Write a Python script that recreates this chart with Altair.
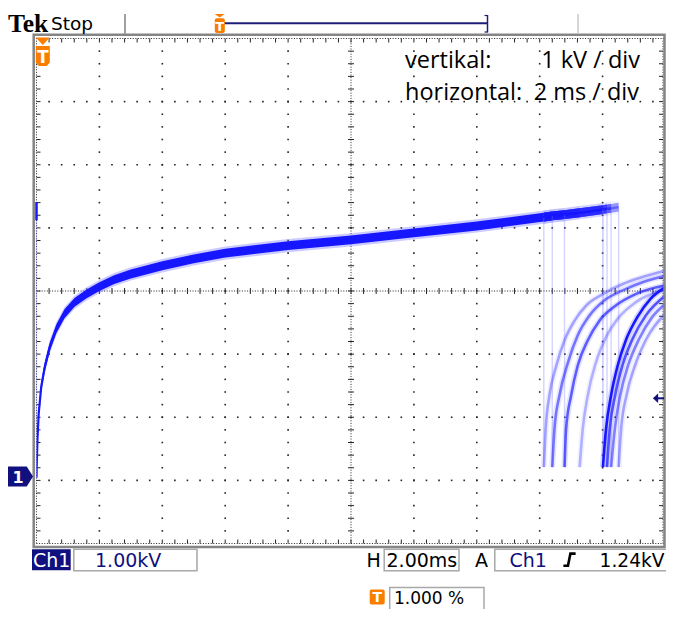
import altair as alt
import numpy as np
import pandas as pd

# ---------------- values read from the oscilloscope screen ----------------
# main charging trace: time (ms) and voltage (kV)
trace_t = [0.00, 0.006, 0.03, 0.07, 0.15, 0.26, 0.42, 0.63, 0.89, 1.21, 1.58, 2.00, 2.47, 3.00,
           4.00, 5.00, 6.00, 8.00, 10.0, 12.0, 14.0, 16.13, 16.40, 16.79, 17.27, 18.01, 18.14,
           18.27, 18.51]
trace_v = [0.04, 0.21, 0.64, 1.06, 1.48, 1.79, 2.11, 2.40, 2.64, 2.82, 2.95, 3.07, 3.18, 3.27,
           3.40, 3.51, 3.60, 3.72, 3.81, 3.92, 4.03, 4.17, 4.19, 4.21, 4.24, 4.29, 4.30,
           4.31, 4.33]

# overlaid sweeps (persistence): breakdown time and brightness
sweep_id = ["A", "B", "C", "D", "E", "F", "G", "H"]
sweep_break_t = [16.13, 16.40, 16.79, 17.27, 18.01, 18.14, 18.27, 18.51]
sweep_intensity = [0.35, 0.55, 0.65, 0.30, 1.00, 0.70, 0.50, 0.35]
collapse_intensity = [0.30, 0.30, 0.30, 0.00, 0.40, 0.30, 0.30, 0.30]
collapse_floor_v = 0.21

# recovery curves after each breakdown
recovery_t = {
    "A": [16.13, 16.19, 16.31, 16.53, 16.79, 17.11, 17.48, 18.01, 18.64, 19.27, 20.0],
    "B": [16.40, 16.47, 16.63, 16.90, 17.21, 17.58, 18.05, 18.64, 19.27, 20.0],
    "C": [16.79, 16.84, 17.00, 17.21, 17.53, 17.90, 18.42, 19.05, 20.0],
    "D": [17.27, 17.37, 17.53, 17.79, 18.11, 18.53, 19.05, 20.0],
    "E": [18.01, 18.11, 18.27, 18.48, 18.74, 19.11, 19.53, 20.0],
    "F": [18.14, 18.23, 18.40, 18.63, 18.95, 19.37, 20.0],
    "G": [18.27, 18.39, 18.56, 18.81, 19.16, 19.58, 20.0],
    "H": [18.51, 18.59, 18.76, 19.03, 19.37, 20.0],
}
recovery_v = {
    "A": [0.21, 0.82, 1.35, 1.82, 2.22, 2.53, 2.77, 2.95, 3.11, 3.22, 3.32],
    "B": [0.21, 0.82, 1.35, 1.87, 2.30, 2.61, 2.85, 3.01, 3.14, 3.24],
    "C": [0.21, 0.82, 1.35, 1.82, 2.22, 2.53, 2.77, 2.95, 3.09],
    "D": [0.21, 0.82, 1.35, 1.87, 2.27, 2.59, 2.82, 3.03],
    "E": [0.21, 0.82, 1.35, 1.82, 2.22, 2.59, 2.88, 3.06],
    "F": [0.21, 0.82, 1.35, 1.82, 2.24, 2.61, 2.93],
    "G": [0.21, 0.82, 1.35, 1.82, 2.24, 2.59, 2.80],
    "H": [0.21, 0.82, 1.35, 1.82, 2.22, 2.64],
}
pretrigger_blip_v = [4.12, 4.41]
ground_marker_v = 0.06
trigger_level_v = 1.30
trigger_pos_t = 0.2

# screen texts
annot_rows = [("vertikal:", "1 kV / div"), ("horizontal:", "2 ms / div")]
status_texts = {"ch": "Ch1", "volts": "1.00kV", "H": "H", "time": "2.00ms", "A": "A",
                "trig_ch": "Ch1", "trig_lvl": "1.24kV", "pct": "1.000 %"}

# ---------------- layout / style ----------------
W, H = 629, 505
OX, OY = 38.5, 38.5            # reference-screen position of the graticule origin
BLUE = "#1616ff"
FRINGE = "#6a6aff"
NAVY = "#10107e"
ORANGE = "#fa7d00"
GRAYBOX = "#a8a8a8"
GRID = "#262626"

SX = alt.Scale(domain=[0, 20], nice=False, zero=False)
SY = alt.Scale(domain=[-1, 7], nice=False, zero=False)


def X(f):
    return alt.X(f, type="quantitative", scale=SX, axis=None)


def Y(f):
    return alt.Y(f, type="quantitative", scale=SY, axis=None)


def XD(v):
    return alt.XDatum(v, type="quantitative", scale=SX, axis=None)


def YD(v):
    return alt.YDatum(v, type="quantitative", scale=SY, axis=None)


ONE = pd.DataFrame({"k": [0]})


def rect(x1, y1, x2, y2, **kw):
    return alt.Chart(ONE).mark_rect(**kw).encode(
        x=alt.value(x1 - OX), x2=alt.value(x2 - OX), y=alt.value(y1 - OY), y2=alt.value(y2 - OY))


def seg(x1, y1, x2, y2, color, w):
    return alt.Chart(ONE).mark_rule(color=color, strokeWidth=w).encode(
        x=alt.value(x1 - OX), x2=alt.value(x2 - OX), y=alt.value(y1 - OY), y2=alt.value(y2 - OY))


def txt(s, x, y, size, color="black", font="DejaVu Sans", weight="normal", align="left"):
    return alt.Chart(ONE).mark_text(text=s, fontSize=size, font=font, fontWeight=weight, color=color,
                                    align=align, baseline="alphabetic").encode(
        x=alt.value(x - OX), y=alt.value(y - OY))


def sym(path, size, color, x, y, filled=True, sw=1.0):
    kw = dict(shape=path, size=size, filled=filled, color=color, opacity=1)
    if not filled:
        kw["strokeWidth"] = sw
    return alt.Chart(ONE).mark_point(**kw).encode(x=x, y=y)


layers = []

# ---------------- graticule ----------------
majors_t = [2, 4, 6, 8, 12, 14, 16, 18]
majors_v = [0, 1, 2, 4, 5, 6]
minor_v = [round(-1 + 0.2 * k, 2) for k in range(1, 40)]
minor_t = [round(0.4 * k, 2) for k in range(1, 50)]
dots = pd.DataFrame([{"t": t, "v": v} for t in majors_t for v in minor_v] +
                    [{"t": t, "v": v} for v in majors_v for t in minor_t])
layers.append(alt.Chart(dots).mark_square(size=2.6, color=GRID, opacity=1).encode(x=X("t"), y=Y("v")))

# center cross (dense dotted) with ticks
layers.append(alt.Chart(ONE).mark_rule(color=GRID, strokeWidth=1, strokeDash=[1, 1.6]).encode(
    x=XD(0), x2=alt.X2Datum(20), y=YD(3)))
layers.append(alt.Chart(ONE).mark_rule(color=GRID, strokeWidth=1, strokeDash=[1, 1.6]).encode(
    x=XD(10), y=YD(-1), y2=alt.Y2Datum(7)))
tdf = pd.DataFrame({"t": minor_t})
vdf = pd.DataFrame({"v": minor_v})
layers.append(alt.Chart(tdf).mark_tick(orient="vertical", size=6, thickness=1, color=GRID, opacity=1).encode(
    x=X("t"), y=YD(3)))
layers.append(alt.Chart(vdf).mark_tick(orient="horizontal", size=6, thickness=1, color=GRID, opacity=1).encode(
    y=Y("v"), x=XD(10)))

# edges: dotted lines and inward ticks
layers.append(alt.Chart(ONE).mark_rule(color=GRID, strokeWidth=1, strokeDash=[1, 1.6]).encode(
    x=XD(0), y=YD(-1), y2=alt.Y2Datum(7)))
layers.append(alt.Chart(ONE).mark_rule(color=GRID, strokeWidth=1, strokeDash=[1, 1.6], xOffset=-2.5).encode(
    x=XD(20), y=YD(-1), y2=alt.Y2Datum(7)))
for yv in (-1, 7):
    layers.append(alt.Chart(ONE).mark_rule(color=GRID, strokeWidth=1, strokeDash=[1, 1.6]).encode(
        x=XD(0), x2=alt.X2Datum(20), y=YD(yv)))
layers.append(alt.Chart(tdf).mark_tick(orient="vertical", size=4, thickness=1, color=GRID, yOffset=2,
                                       opacity=1).encode(x=X("t"), y=YD(7)))
layers.append(alt.Chart(tdf).mark_tick(orient="vertical", size=4, thickness=1, color=GRID, yOffset=-2,
                                       opacity=1).encode(x=X("t"), y=YD(-1)))
layers.append(alt.Chart(vdf).mark_tick(orient="horizontal", size=4, thickness=1, color=GRID, xOffset=2,
                                       opacity=1).encode(y=Y("v"), x=XD(0)))
layers.append(alt.Chart(vdf).mark_tick(orient="horizontal", size=4, thickness=1, color=GRID, xOffset=-4.5,
                                       opacity=1).encode(y=Y("v"), x=XD(20)))

# ---------------- traces ----------------
# common part of all sweeps (drawn once), then the per-sweep tails
t_common = sweep_break_t[0]
common_df = pd.DataFrame({"t": [t for t in trace_t if t <= t_common + 1e-9],
                          "v": [v for t, v in zip(trace_t, trace_v) if t <= t_common + 1e-9]})
tail_rows = []
for s, tb in zip(sweep_id, sweep_break_t):
    for t, v in zip(trace_t, trace_v):
        if t_common - 1e-9 <= t <= tb + 1e-9:
            tail_rows.append({"s": s, "t": t, "v": v})
tail_df = pd.DataFrame(tail_rows)

for df, fo, co, det in ((common_df, 0.35, 1.0, False), (tail_df, 0.08, 0.42, True)):
    enc_extra = {"detail": "s:N"} if det else {}
    layers.append(alt.Chart(df).transform_calculate(lo="datum.v - 0.105", hi="datum.v + 0.105").mark_area(
        color=FRINGE, opacity=fo, clip=True).encode(x=X("t"), y=Y("lo"), y2=alt.Y2("hi:Q"), **enc_extra))
    layers.append(alt.Chart(df).transform_calculate(lo="datum.v - 0.07", hi="datum.v + 0.07").mark_area(
        color=BLUE, opacity=co, clip=True).encode(x=X("t"), y=Y("lo"), y2=alt.Y2("hi:Q"), **enc_extra))
    layers.append(alt.Chart(df).mark_line(color=BLUE, opacity=co, strokeWidth=2.2, clip=True).encode(
        x=X("t"), y=Y("v"), **enc_extra))

# collapse (breakdown) lines
drop_rows = []
for s, tb, a in zip(sweep_id, sweep_break_t, collapse_intensity):
    vt = trace_v[trace_t.index(tb)]
    drop_rows.append({"s": s, "t": tb, "vt": vt, "vb": collapse_floor_v, "a": a})
drop_df = pd.DataFrame(drop_rows)
layers.append(alt.Chart(drop_df).mark_rule(color="#7070ff", strokeWidth=1.4).encode(
    x=X("t"), y=Y("vt"), y2=alt.Y2("vb:Q"), opacity=alt.Opacity("a:Q", scale=None)))

# pre-trigger remnant at the left edge
layers.append(alt.Chart(ONE).mark_rule(color="#7070ff", strokeWidth=1.4, opacity=0.3).encode(
    x=XD(0), y=YD(pretrigger_blip_v[0]), y2=alt.Y2Datum(trace_v[0])))
layers.append(alt.Chart(ONE).mark_rule(color=BLUE, strokeWidth=2.5).encode(
    x=XD(0), y=YD(pretrigger_blip_v[0]), y2=alt.Y2Datum(pretrigger_blip_v[1])))

# recovery curves
rec_rows = []
for s, a in zip(sweep_id, sweep_intensity):
    for t, v in zip(recovery_t[s], recovery_v[s]):
        rec_rows.append({"s": s, "t": t, "v": v, "a": a, "af": a * 0.3})
rec_df = pd.DataFrame(rec_rows)
layers.append(alt.Chart(rec_df).mark_line(color=FRINGE, strokeWidth=6, interpolate="monotone", clip=True).encode(
    x=X("t"), y=Y("v"), detail="s:N", opacity=alt.Opacity("af:Q", scale=None)))
layers.append(alt.Chart(rec_df).mark_line(color=BLUE, strokeWidth=2.6, interpolate="monotone", clip=True).encode(
    x=X("t"), y=Y("v"), detail="s:N", opacity=alt.Opacity("a:Q", scale=None)))

# frame (right side drawn just inside the page width)
layers.append(rect(35.7, 34.7, 666.5, 547.0, fill="white", fillOpacity=0, stroke="#858585", strokeWidth=2.5))

# ---------------- markers on the graticule ----------------
# trigger position marker (orange) at top
layers.append(sym("M-1,-0.54L1,-0.54L0,0.54Z", 196, ORANGE, XD(trigger_pos_t), alt.value(41.2 - OY)))
layers.append(sym("M-0.7,-1L0.7,-1L0.7,0.65L0.4,1L-0.4,1L-0.7,0.65Z", 400, ORANGE,
                  XD(trigger_pos_t), alt.value(56 - OY)))
layers.append(alt.Chart(ONE).mark_text(text="T", fontSize=17, font="DejaVu Sans", fontWeight="bold",
                                       color="white", align="center", baseline="alphabetic").encode(
    x=XD(trigger_pos_t), y=alt.value(63 - OY)))

# ground marker "1"
layers.append(sym("M-1,-0.8L0.5,-0.8L1,0L0.5,0.8L-1,0.8Z", 625, NAVY, alt.value(22.5 - OX), YD(ground_marker_v)))
layers.append(alt.Chart(ONE).mark_text(text="1", fontSize=16, font="DejaVu Sans", fontWeight="bold",
                                       color="white", align="center", baseline="middle", dy=1).encode(
    x=alt.value(20 - OX), y=YD(ground_marker_v)))

# trigger level arrow (right)
layers.append(sym("M-0.55,0L0.55,-1L0.55,1Z", 90, NAVY, alt.value(657.5 - OX), YD(trigger_level_v)))
layers.append(alt.Chart(ONE).mark_rule(color=NAVY, strokeWidth=2).encode(
    x=alt.value(658.5 - OX), x2=alt.value(666 - OX), y=YD(trigger_level_v)))

# annotation text
layers.append(txt(annot_rows[0][0], 407, 68, 23.5, font="Open Sans"))
layers.append(txt(annot_rows[0][1], 642, 68, 23.5, font="Open Sans", align="right"))
layers.append(txt(annot_rows[1][0], 407, 100, 23.5, font="Open Sans"))
layers.append(txt(annot_rows[1][1], 641, 100, 23.5, font="Open Sans", align="right"))

# ---------------- top status line ----------------
layers.append(txt("Tek", 10, 31.7, 25.5, font="Liberation Serif", weight="bold"))
layers.append(txt("Stop", 53, 29.5, 18.5))
layers.append(seg(127, 14, 127, 34, "#a0a0a0", 2))
layers.append(seg(580, 14, 580, 34, "#c8c8c8", 1.5))
layers.append(seg(226, 23.3, 490, 23.3, "#1e1e78", 2))
layers.append(seg(489.5, 15, 489.5, 32.5, "#1e1e78", 1.5))
layers.append(seg(486.5, 15.5, 489.5, 15.5, "#1e1e78", 1.2))
layers.append(seg(486.5, 32, 489.5, 32, "#1e1e78", 1.2))
layers.append(sym("M-1,-0.35L1,-0.35L0,0.35Z", 100, ORANGE, alt.value(221.7 - OX), alt.value(15.8 - OY)))
layers.append(rect(216.8, 18.2, 226.8, 33, fill=ORANGE, cornerRadius=2))
layers.append(txt("T", 221.8, 31, 13, color="white", weight="bold", align="center"))

# ---------------- bottom status line ----------------
layers.append(rect(34, 549.3, 72.7, 570.3, fill=NAVY))
layers.append(txt(status_texts["ch"], 35, 566.6, 19, color="white"))
layers.append(rect(75.8, 549.3, 199, 570.7, fill="white", stroke=GRAYBOX, strokeWidth=1.5))
layers.append(txt(status_texts["volts"], 97, 566.6, 19, color=NAVY))
layers.append(txt(status_texts["H"], 368.5, 566.6, 19))
layers.append(rect(386.2, 549.3, 461, 570.7, fill="white", stroke=GRAYBOX, strokeWidth=1.5))
layers.append(txt(status_texts["time"], 388.5, 566.6, 19))
layers.append(txt(status_texts["A"], 477, 566.6, 19))
layers.append(rect(496.8, 549.3, 690, 570.7, fill="white", stroke=GRAYBOX, strokeWidth=1.5))
layers.append(txt(status_texts["trig_ch"], 511.5, 566.6, 19, color=NAVY))
layers.append(sym("M-1,1L-0.25,1L0.15,-1L1,-1", 150, "black", alt.value(571.5 - OX), alt.value(559.7 - OY),
                  filled=False, sw=2.6))
layers.append(txt(status_texts["trig_lvl"], 666.5, 566.6, 18.6, align="right"))

# trigger position readout (kept inside the page height)
layers.append(rect(371.7, 589.5, 386.7, 604.5, fill=ORANGE, cornerRadius=2))
layers.append(txt("T", 379.2, 602.3, 14, color="white", weight="bold", align="center"))
layers.append(rect(391.7, 587.5, 486, 620, fill="white", stroke=GRAYBOX, strokeWidth=1.5))
layers.append(txt(status_texts["pct"], 396, 604.3, 17))

chart = alt.layer(*layers).properties(
    width=W, height=H,
    padding={"left": 28.5, "top": 30.5, "right": 0.5, "bottom": 65.5},
    autosize=alt.AutoSizeParams(type="none"),
    background="white",
).configure_view(stroke=None)

chart.save("out.html", embed_options={"renderer": "svg", "actions": False})
